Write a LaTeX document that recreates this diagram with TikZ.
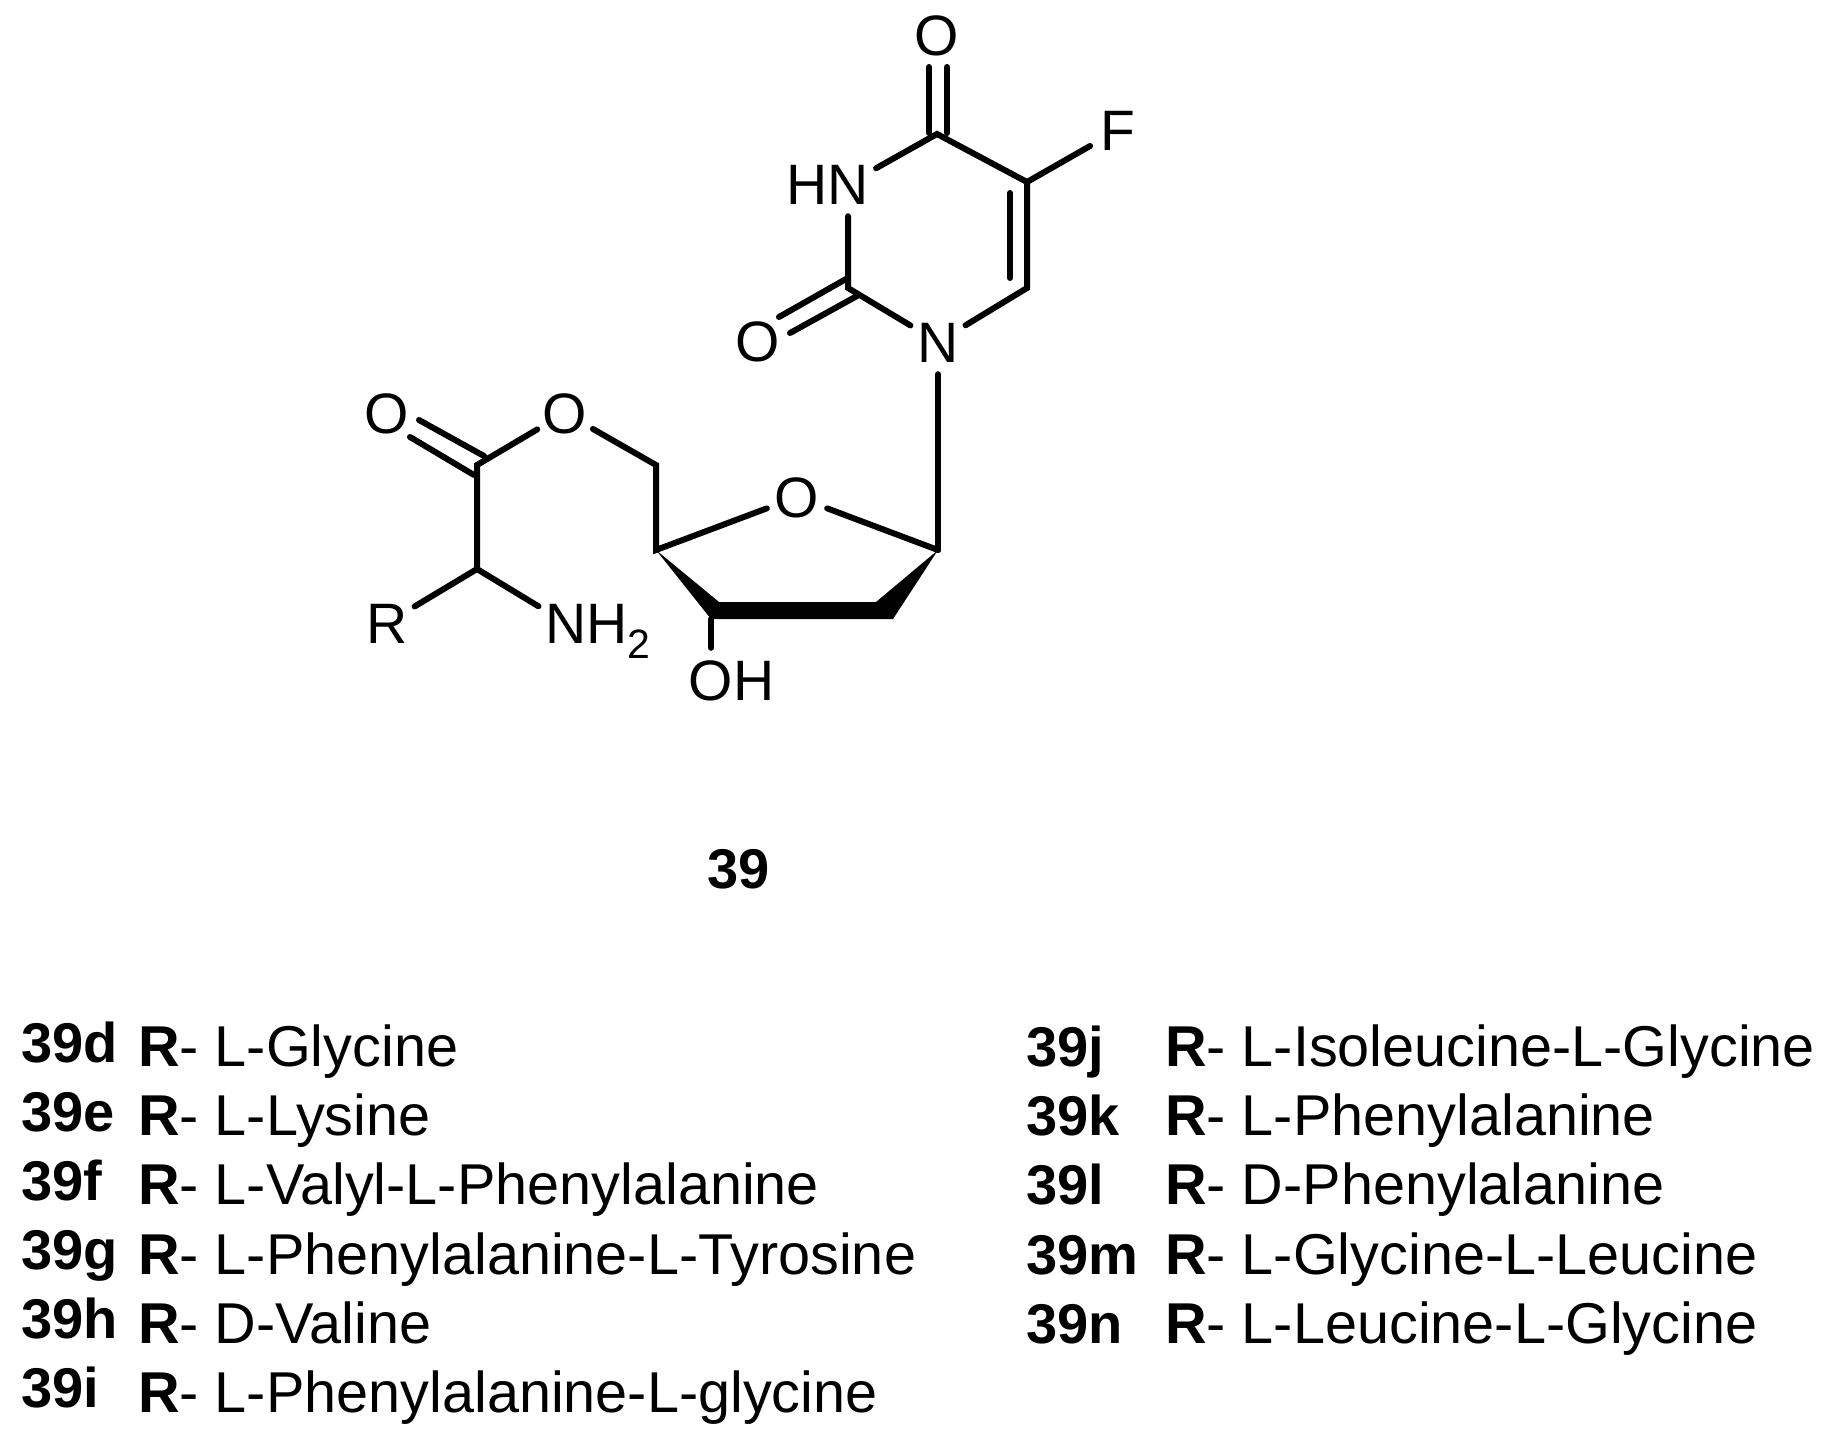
\documentclass[tikz,border=0pt]{standalone}
\usepackage{fontspec}
\setmainfont{Liberation Sans}
\usepackage{tikz}
\usetikzlibrary{positioning}
\newcommand{\subtwo}{\raisebox{-15pt}{\fontsize{41}{41}\selectfont 2}}
\tikzset{
	atom/.style={circle,inner sep=0pt,minimum size=64pt,text height=41pt,text depth=0pt,font=\fontsize{57}{57}\selectfont},
	bond/.style={line width=6pt,line cap=round},
	listlabel/.style={anchor=base west,inner sep=0pt,font=\fontsize{56}{56}\selectfont\bfseries},
	listtext/.style={anchor=base west,inner sep=0pt,font=\fontsize{57.6}{57.6}\selectfont}
}
\begin{document}
\begin{tikzpicture}[x=1pt,y=-1pt]
		\useasboundingbox (0,0) rectangle (1833,1441);
		% ring atoms
		\coordinate (c4) at (937,134);
		\coordinate (c5) at (1027,182);
		\coordinate (c6) at (1027,288);
		\coordinate (c2) at (848,288);
		\node[atom] (o4) at (937,35) {O};
		\node[atom] (f5) at (1118,130) {F};
		\node[atom] (n3) at (848,184) {\llap{H}N};
		\node[atom] (n1) at (938,342) {N};
		\node[atom] (o2) at (758,341) {O};
		% sugar atoms
		\coordinate (c1s) at (938,550);
		\coordinate (c2s) at (893,619);
		\coordinate (c2t) at (876,602);
		\coordinate (c3s) at (711,619);
		\coordinate (c3t) at (719,602);
		\coordinate (c4s) at (656,550);
		\coordinate (c5s) at (656,465);
		\node[atom] (o4s) at (797,497) {O};
		\node[atom] (oh) at (711,680) {O\rlap{H}};
		% ester side
		\coordinate (cco) at (477,465);
		\coordinate (cha) at (477,569);
		\node[atom] (oe) at (565,413) {O};
		\node[atom] (oco) at (387,413) {O};
		\node[atom] (rr) at (387,623) {R};
		\node[atom] (nh) at (566,623) {N\rlap{H\subtwo}};
		% second lines of the double bonds
		\coordinate (o4a) at (929,67);
		\coordinate (c4a) at (929,133);
		\coordinate (o4b) at (947,67);
		\coordinate (c4b) at (947,133);
		\coordinate (c5a) at (1010,193);
		\coordinate (c6a) at (1010,278);
		\coordinate (o2a) at (779,317);
		\coordinate (c2a) at (846,279);
		\coordinate (o2b) at (790,333);
		\coordinate (c2b) at (857,296);
		\coordinate (oca) at (419,420);
		\coordinate (cca) at (484,456);
		\coordinate (ocb) at (410,437);
		\coordinate (ccb) at (474,475);
		\draw[bond] (o4a) -- (c4a);
		\draw[bond] (o4b) -- (c4b);
		\draw[bond] (n3) -- (c4) -- (c5) -- (c6) -- (n1);
		\draw[bond] (c5) -- (f5);
		\draw[bond] (c5a) -- (c6a);
		\draw[bond] (n3) -- (c2) -- (n1);
		\draw[bond] (o2a) -- (c2a);
		\draw[bond] (o2b) -- (c2b);
		\draw[bond] (n1) -- (c1s);
		\draw[bond] (o4s) -- (c1s);
		\draw[bond] (o4s) -- (c4s) -- (c5s) -- (oe) -- (cco) -- (cha) -- (rr);
		\draw[bond] (cha) -- (nh);
		\draw[bond] (oca) -- (cca);
		\draw[bond] (ocb) -- (ccb);
		\draw[bond] (c3s) -- (oh);
		\fill (c4s) -- (c3t) -- (c2t) -- (c1s) -- (c2s) -- (c3s) -- cycle;
		% compound number
		\node[listlabel] (num) at (707,888) {39};
		% left column
		\node[listlabel] (d) at (21,1062) {39d};
		\node[listtext] (rd) at (138,1066) {\textbf{R}- L-Glycine};
		\node[listlabel] (e) at (21,1131) {39e};
		\node[listtext] (re) at (138,1135) {\textbf{R}- L-Lysine};
		\node[listlabel] (ff) at (21,1200) {39f};
		\node[listtext] (rf) at (138,1204) {\textbf{R}- L-Valyl-L-Phenylalanine};
		\node[listlabel] (g) at (21,1269) {39g};
		\node[listtext] (rg) at (138,1274) {\textbf{R}- L-Phenylalanine-L-Tyrosine};
		\node[listlabel] (h) at (21,1338) {39h};
		\node[listtext] (rh) at (138,1343) {\textbf{R}- D-Valine};
		\node[listlabel] (i) at (21,1407) {39i};
		\node[listtext] (ri) at (138,1412) {\textbf{R}- L-Phenylalanine-L-glycine};
		% right column
		\node[listlabel] (j) at (1026,1066) {39j};
		\node[listtext] (rj) at (1165,1066) {\textbf{R}- L-Isoleucine-L-Glycine};
		\node[listlabel] (k) at (1026,1135) {39k};
		\node[listtext] (rk) at (1165,1135) {\textbf{R}- L-Phenylalanine};
		\node[listlabel] (l) at (1026,1204) {39l};
		\node[listtext] (rl) at (1165,1204) {\textbf{R}- D-Phenylalanine};
		\node[listlabel] (m) at (1026,1274) {39m};
		\node[listtext] (rm) at (1165,1274) {\textbf{R}- L-Glycine-L-Leucine};
		\node[listlabel] (n) at (1026,1343) {39n};
		\node[listtext] (rn) at (1165,1343) {\textbf{R}- L-Leucine-L-Glycine};
	\end{tikzpicture}
\end{document}
